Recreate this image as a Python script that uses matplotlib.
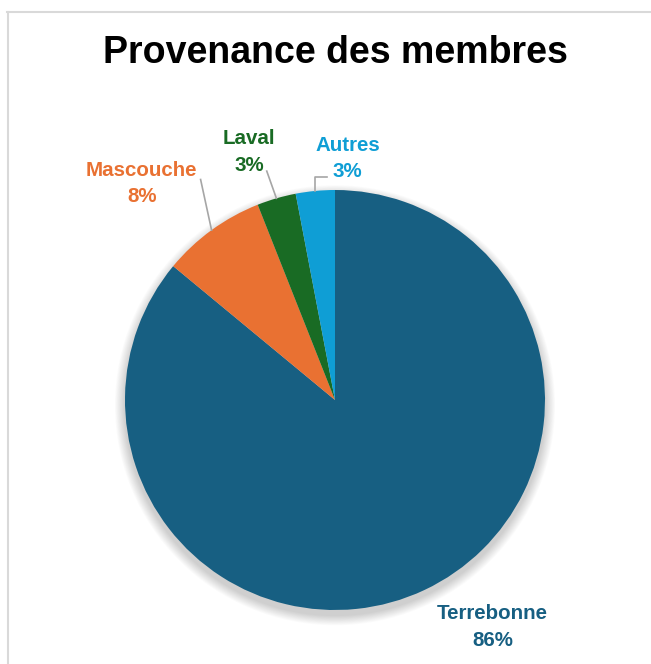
import numpy as np
import matplotlib.pyplot as plt
from matplotlib.lines import Line2D
from matplotlib.patches import Circle

# Données
villes = ['Terrebonne', 'Mascouche', 'Laval', 'Autres']
pourcentages = [86, 8, 3, 3]
couleurs = ['#175F82', '#E97132', '#196B24', '#0F9ED5']

# position des étiquettes (rayon = 1)
pos_etiquettes = [(0.75, -1.08), (-0.92, 1.03), (-0.41, 1.18), (0.06, 1.15)]

plt.rcParams['font.family'] = ['Liberation Sans', 'DejaVu Sans']

fig = plt.figure(figsize=(6.51, 6.64), dpi=100)
ax = fig.add_axes([0, 0, 1, 1])

# ombre douce sous le camembert
for k in range(12):
    ax.add_patch(Circle((0.0, -0.025), 1.0 + 0.004 * (12 - k), color='black',
                        alpha=0.014, lw=0, zorder=0))

wedges, _ = ax.pie(pourcentages, colors=couleurs, startangle=90, counterclock=False,
                   radius=1.0, wedgeprops=dict(linewidth=0))

# centre à (335, 400) px, rayon 210 px
ax.set_xlim(-335 / 210, (651 - 335) / 210)
ax.set_ylim(-264 / 210, (664 - 264) / 210)
ax.set_aspect('equal')
ax.axis('off')

for w, nom, p, c, (tx, ty) in zip(wedges, villes, pourcentages, couleurs, pos_etiquettes):
    ax.text(tx, ty, f'{nom}\n{p}%', ha='center', va='center', color=c,
            fontsize=14.8, fontweight='bold', linespacing=1.5)

# lignes de rappel
def point_bord(w):
    a = np.deg2rad((w.theta1 + w.theta2) / 2)
    return np.cos(a), np.sin(a)

x, y = point_bord(wedges[1])
ax.plot([x, -0.64], [y, 1.05], color='#A6A6A6', lw=1.2)
x, y = point_bord(wedges[2])
ax.plot([x, -0.325], [y, 1.09], color='#A6A6A6', lw=1.2)
x, y = point_bord(wedges[3])
ax.plot([x, x, -0.04], [y, 1.06, 1.06], color='#A6A6A6', lw=1.2)

fig.text(335 / 651, 1 - 53 / 664, 'Provenance des membres', ha='center', va='center',
         fontsize=27, fontweight='bold', color='black')

# cadre
fig.add_artist(Line2D([7 / 651, 1], [1 - 12 / 664] * 2, color='#D9D9D9', lw=1.5,
                      transform=fig.transFigure))
fig.add_artist(Line2D([8 / 651] * 2, [0, 1 - 12 / 664], color='#D9D9D9', lw=1.5,
                      transform=fig.transFigure))

fig.savefig('out.png', dpi=100)
